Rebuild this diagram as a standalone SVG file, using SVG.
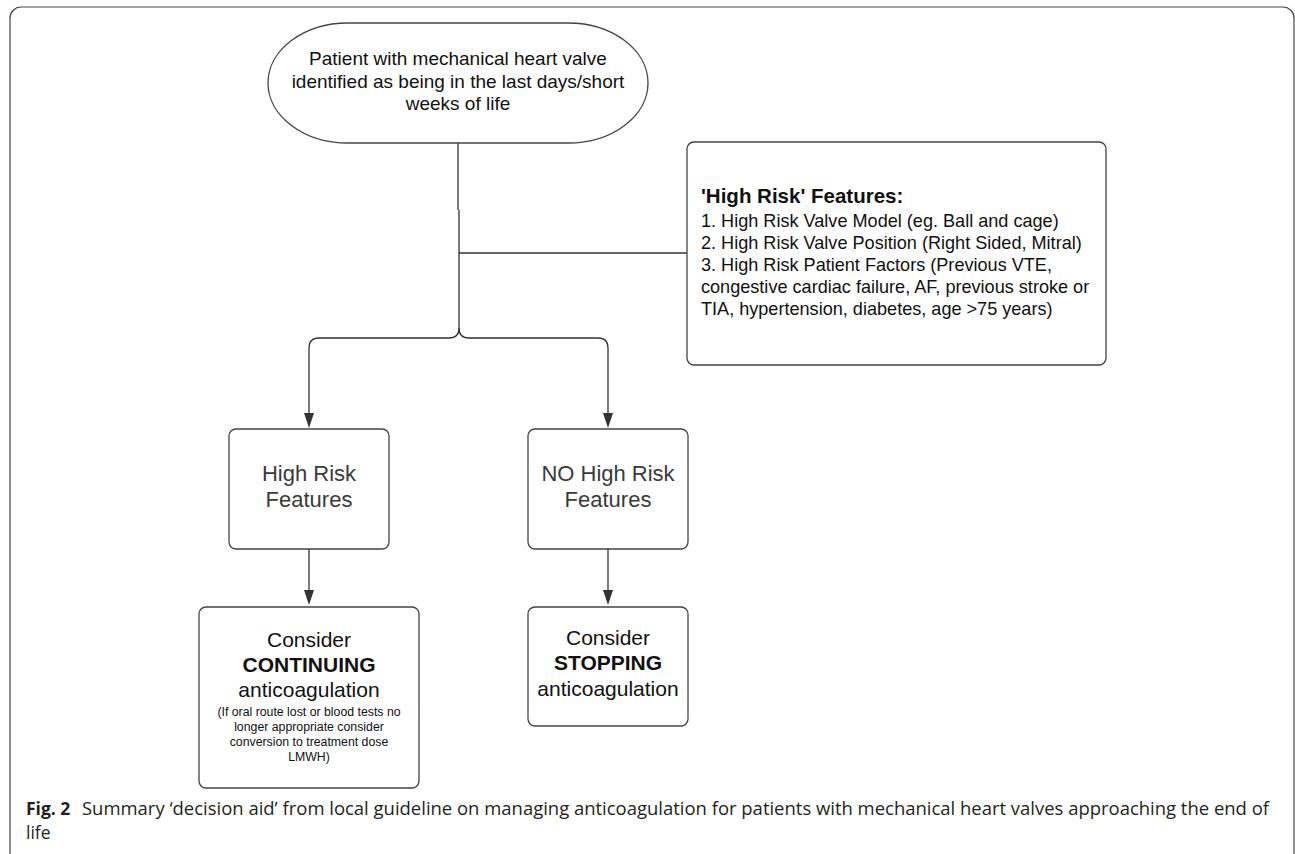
<svg xmlns="http://www.w3.org/2000/svg" width="1295" height="854" viewBox="0 0 1295 854">
<style>
.node{fill:#fff;stroke:#444;stroke-width:1.3}
.t{font-family:"Liberation Sans",Arial,sans-serif;fill:#111}
.g{font-family:"Liberation Sans",Arial,sans-serif;fill:#3a3a3a}
.c{stroke:#333;stroke-width:1.3;fill:none}
.ah{fill:#333}
.cap{font-family:"Open Sans",sans-serif;fill:#231f20}
</style>
<rect x="0" y="0" width="1295" height="854" fill="#fff"/>
<rect x="10" y="7" width="1284" height="860" rx="11" fill="none" stroke="#444" stroke-width="1.2"/>
<g id="connectors">
<path class="c" d="M458,143 L458,210"/>
<path class="c" d="M459,210 L459,328 Q459,338 449,338 L319,338 Q309,338 309,348 L309,414"/>
<path class="c" d="M459,328 Q459,338 469,338 L598,338 Q608,338 608,348 L608,414"/>
<path class="c" d="M459,253 L687,253"/>
<path class="c" d="M309,549 L309,591"/>
<path class="c" d="M608,549 L608,591"/>
<polygon class="ah" points="304,413 314,413 309,428"/>
<polygon class="ah" points="603,413 613,413 608,428"/>
<polygon class="ah" points="304,590 314,590 309,605"/>
<polygon class="ah" points="603,590 613,590 608,605"/>
</g>
<g id="start">
<rect class="node" x="268" y="23" width="380" height="120" rx="80" ry="60"/>
<text class="t" font-size="19" text-anchor="middle" x="458"><tspan x="458" y="65">Patient with mechanical heart valve</tspan><tspan x="458" y="88">identified as being in the last days/short</tspan><tspan x="458" y="110">weeks of life</tspan></text>
</g>
<g id="features">
<rect class="node" x="687" y="142" width="419" height="223" rx="7"/>
<text class="t" font-size="18.1"><tspan x="701" y="203" font-weight="bold" font-size="20.5">'High Risk' Features:</tspan><tspan x="701" y="227">1. High Risk Valve Model (eg. Ball and cage)</tspan><tspan x="701" y="249">2. High Risk Valve Position (Right Sided, Mitral)</tspan><tspan x="701" y="271">3. High Risk Patient Factors (Previous VTE,</tspan><tspan x="701" y="293">congestive cardiac failure, AF, previous stroke or</tspan><tspan x="701" y="315">TIA, hypertension, diabetes, age &gt;75 years)</tspan></text>
</g>
<g id="high">
<rect class="node" x="229" y="429" width="160" height="120" rx="7"/>
<text class="g" font-size="22" text-anchor="middle"><tspan x="309" y="481">High Risk</tspan><tspan x="309" y="507">Features</tspan></text>
</g>
<g id="nohigh">
<rect class="node" x="528" y="429" width="160" height="120" rx="7"/>
<text class="g" font-size="22" text-anchor="middle"><tspan x="608" y="481">NO High Risk</tspan><tspan x="608" y="507">Features</tspan></text>
</g>
<g id="continue">
<rect class="node" x="199" y="607" width="220" height="181" rx="7"/>
<text class="t" font-size="21" text-anchor="middle"><tspan x="309" y="647">Consider</tspan><tspan x="309" y="672" font-weight="bold">CONTINUING</tspan><tspan x="309" y="697">anticoagulation</tspan></text>
<text class="t" font-size="12.3" text-anchor="middle"><tspan x="309" y="716">(If oral route lost or blood tests no</tspan><tspan x="309" y="731">longer appropriate consider</tspan><tspan x="309" y="746">conversion to treatment dose</tspan><tspan x="309" y="761">LMWH)</tspan></text>
</g>
<g id="stop">
<rect class="node" x="528" y="607" width="160" height="119" rx="7"/>
<text class="t" font-size="21" text-anchor="middle"><tspan x="608" y="645">Consider</tspan><tspan x="608" y="670" font-weight="bold">STOPPING</tspan><tspan x="608" y="696">anticoagulation</tspan></text>
</g>
<g id="caption">
<text class="cap" font-size="17.5" x="26" y="815"><tspan font-weight="bold">Fig. 2</tspan><tspan x="82" textLength="1187" lengthAdjust="spacingAndGlyphs">Summary ‘decision aid’ from local guideline on managing anticoagulation for patients with mechanical heart valves approaching the end of</tspan></text>
<text class="cap" font-size="17.5" x="26" y="839">life</text>
</g>
</svg>
